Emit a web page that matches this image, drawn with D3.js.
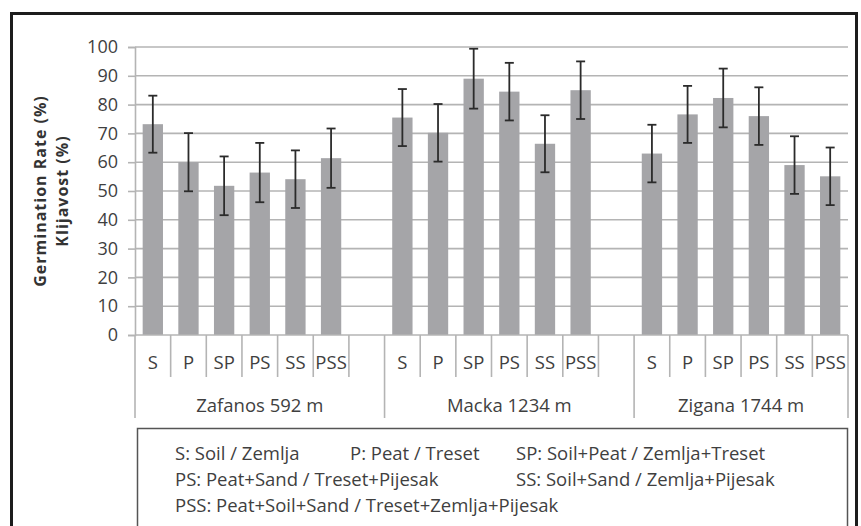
<!DOCTYPE html>
<html><head><meta charset="utf-8">
<script src="https://cdn.jsdelivr.net/npm/d3@7/dist/d3.min.js"></script>
<style>
html,body{margin:0;padding:0;background:#fff;}
svg{display:block;}
text{font-family:"Open Sans",sans-serif;}
</style></head>
<body>
<svg id="chart" width="861" height="526"></svg>
<script>
// ---- data ----
const groups = ["Zafanos 592 m", "Macka 1234 m", "Zigana 1744 m"];
const categories = ["S", "P", "SP", "PS", "SS", "PSS"];
const zafanosValues = [73.2, 60.0, 51.8, 56.4, 54.1, 61.4];
const mackaValues   = [75.5, 70.2, 89.0, 84.5, 66.4, 85.0];
const ziganaValues  = [63.0, 76.6, 82.3, 76.0, 59.0, 55.1];
const zafanosErr = [9.9, 10.1, 10.2, 10.3, 10.0, 10.3];
const mackaErr   = [9.9, 10.0, 10.4, 10.0, 9.9, 10.0];
const ziganaErr  = [10.0, 9.9, 10.2, 10.0, 10.0, 10.0];
const yTicks = [0, 10, 20, 30, 40, 50, 60, 70, 80, 90, 100];
const yTitle = ["Germination Rate (%)", "Klijavost  (%)"];
const legendRows = [
  ["S: Soil / Zemlja", "P: Peat / Treset", "SP: Soil+Peat / Zemlja+Treset"],
  ["PS: Peat+Sand / Treset+Pijesak", "SS: Soil+Sand / Zemlja+Pijesak"],
  ["PSS: Peat+Soil+Sand / Treset+Zemlja+Pijesak"]
];

const seriesValues = [zafanosValues, mackaValues, ziganaValues];
const seriesErr = [zafanosErr, mackaErr, ziganaErr];
const slotsPerGroup = categories.length + 1;
const nSlots = groups.length * slotsPerGroup - 1;

const rows = [];
groups.forEach((g, gi) => categories.forEach((c, ci) => {
  rows.push({group: g, cat: c, slot: gi * slotsPerGroup + ci,
             value: seriesValues[gi][ci], err: seriesErr[gi][ci]});
}));

// ---- layout ----
const svg = d3.select("#chart");
const L = 135, R = 848, T = 47, B = 335;
const x = d3.scaleBand().domain(d3.range(nSlots)).range([L, R]).paddingInner(0).paddingOuter(0);
const y = d3.scaleLinear().domain([0, 100]).range([B, T]);
const gridColor = "#b4b4b4";
const textColor = "#3f3f3f";

// outer frame
svg.append("rect").attr("x", 11.5).attr("y", 13.5).attr("width", 845).attr("height", 620)
  .attr("fill", "none").attr("stroke", "#1c1c1c").attr("stroke-width", 3);

// gridlines
svg.append("g").selectAll("line").data(yTicks.filter(d => d > 0)).join("line")
  .attr("x1", L).attr("x2", R).attr("y1", d => y(d)).attr("y2", d => y(d))
  .attr("stroke", gridColor).attr("stroke-width", 1.6);

// y axis
const yAxis = d3.axisLeft(y).tickValues(yTicks).tickSize(7).tickPadding(10);
const yg = svg.append("g").attr("transform", `translate(${L},0)`).call(yAxis);
yg.select(".domain").attr("stroke", gridColor).attr("stroke-width", 1.6);
yg.selectAll(".tick line").attr("stroke", gridColor).attr("stroke-width", 1.6);
yg.selectAll(".tick text").attr("font-size", 18).attr("fill", textColor)
  .attr("font-family", "'Open Sans', sans-serif");

// bars
const bw = x.bandwidth() * 0.57;
svg.append("g").selectAll("rect").data(rows).join("rect")
  .attr("x", d => x(d.slot) + x.bandwidth() / 2 - bw / 2)
  .attr("width", bw)
  .attr("y", d => y(d.value))
  .attr("height", d => y(0) - y(d.value))
  .attr("fill", "#a5a5a8");

// error bars
const eg = svg.append("g").attr("stroke", "#2b2b2b").attr("stroke-width", 1.8);
rows.forEach(d => {
  const cx = x(d.slot) + x.bandwidth() / 2;
  eg.append("line").attr("x1", cx).attr("x2", cx).attr("y1", y(d.value + d.err)).attr("y2", y(d.value - d.err));
  eg.append("line").attr("x1", cx - 4.5).attr("x2", cx + 4.5).attr("y1", y(d.value + d.err)).attr("y2", y(d.value + d.err));
  eg.append("line").attr("x1", cx - 4.5).attr("x2", cx + 4.5).attr("y1", y(d.value - d.err)).attr("y2", y(d.value - d.err));
});

// category axis baseline
svg.append("line").attr("x1", L).attr("x2", R).attr("y1", B).attr("y2", B)
  .attr("stroke", gridColor).attr("stroke-width", 1.6);

// category boundary ticks
const boundaries = d3.range(nSlots + 1);
const isGroupEdge = i => i === 0 || i === nSlots || (i % slotsPerGroup === 0);
svg.append("g").selectAll("line").data(boundaries).join("line")
  .attr("x1", i => L + i * x.step()).attr("x2", i => L + i * x.step())
  .attr("y1", B).attr("y2", i => isGroupEdge(i) ? 418 : 377)
  .attr("stroke", gridColor).attr("stroke-width", 1.6);

// category labels
svg.append("g").selectAll("text").data(rows).join("text")
  .attr("x", d => x(d.slot) + x.bandwidth() / 2)
  .attr("y", 369)
  .attr("text-anchor", "middle").attr("font-size", 18.5).attr("fill", textColor)
  .text(d => d.cat);

// group labels
svg.append("g").selectAll("text").data(groups).join("text")
  .attr("x", (g, gi) => {
    const s0 = gi * slotsPerGroup;
    const s1 = Math.min(s0 + slotsPerGroup, nSlots);
    return L + (s0 + s1) / 2 * x.step();
  })
  .attr("y", 412)
  .attr("text-anchor", "middle").attr("font-size", 18.5).attr("fill", textColor)
  .text(g => g);

// y title
const yt = svg.append("g").attr("transform", "translate(0,191)");
yTitle.forEach((t, i) => {
  yt.append("text").attr("transform", `translate(${46 + i * 22},0) rotate(-90)`)
    .attr("text-anchor", "middle").attr("font-size", 16).attr("font-weight", "bold")
    .attr("letter-spacing", 1).attr("fill", "#333").text(t);
});

// legend box
svg.append("rect").attr("x", 137.5).attr("y", 428.5).attr("width", 710).attr("height", 140)
  .attr("fill", "none").attr("stroke", "#555").attr("stroke-width", 1.5);
const legendX = [175, 350, 516];
const legendY = [460, 486, 512];
legendRows.forEach((row, ri) => {
  row.forEach((t, ci) => {
    svg.append("text").attr("x", legendX[ri === 1 && ci === 1 ? 2 : ci]).attr("y", legendY[ri])
      .attr("font-size", 18.5).attr("fill", textColor).text(t);
  });
});
</script>
</body></html>
